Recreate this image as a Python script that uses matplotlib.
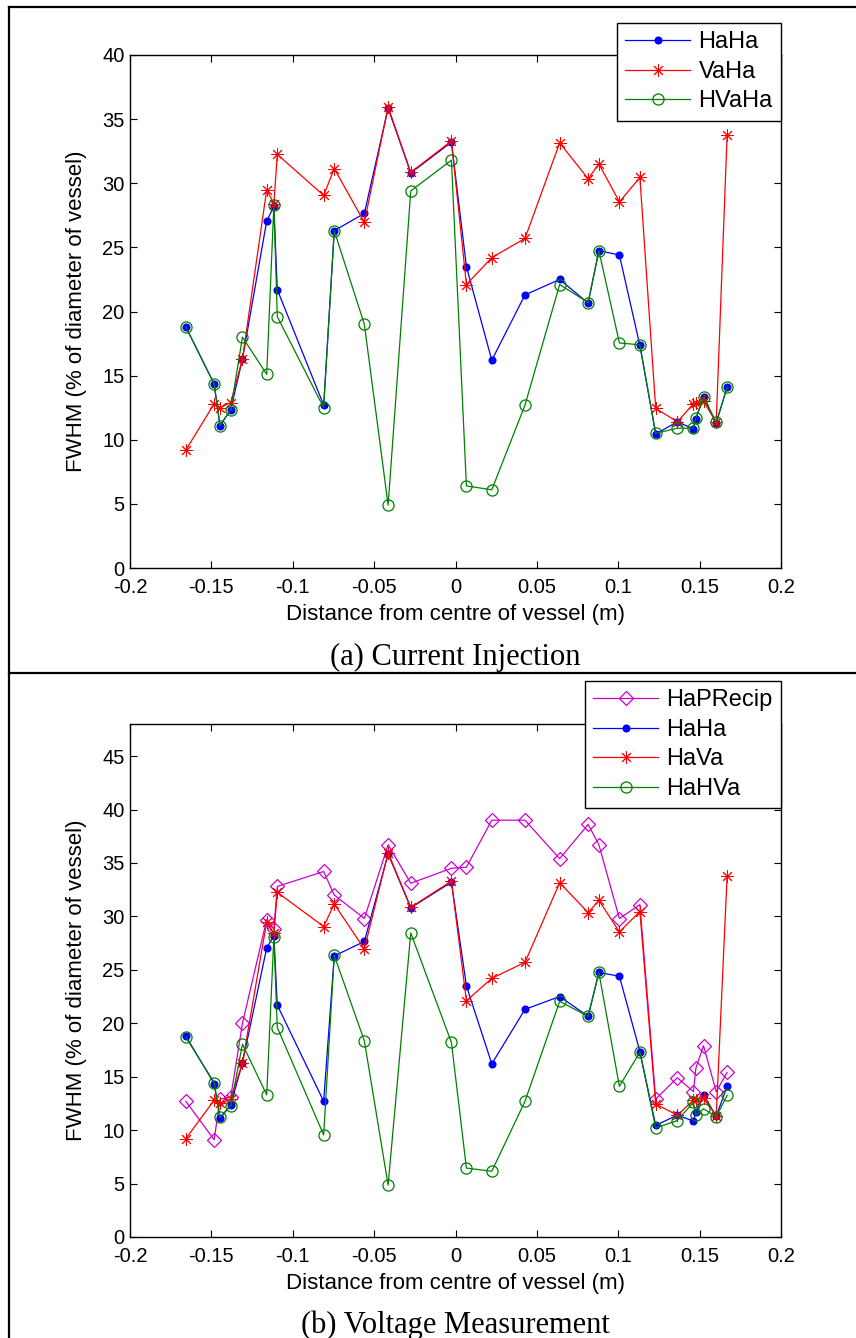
import matplotlib
matplotlib.use("Agg")
import matplotlib.pyplot as plt
from matplotlib.lines import Line2D

plt.rcParams['font.family'] = ['Liberation Sans', 'DejaVu Sans']

# distance of each measurement point from the vessel centre (m)
x_pos = [-0.1657, -0.1483, -0.1447, -0.1381, -0.1309, -0.1160, -0.1116, -0.1095,
         -0.0810, -0.0745, -0.0560, -0.0414, -0.0275, -0.0025, 0.0067, 0.0223,
         0.0427, 0.0640, 0.0815, 0.0881, 0.1007, 0.1133, 0.1230, 0.1363,
         0.1462, 0.1477, 0.1524, 0.1602, 0.1669]

# FWHM (% of vessel diameter)
haha = [18.8, 14.35, 11.1, 12.35, 16.3, 27.05, 28.2, 21.7, 12.7, 26.3, 27.65,
        35.85, 30.8, 33.2, 23.5, 16.2, 21.3, 22.5, 20.65, 24.75, 24.4, 17.35,
        10.45, 11.4, 10.85, 11.65, 13.3, 11.3, 14.1]
vaha = [9.2, 12.8, 12.5, 12.9, 16.3, 29.5, 28.4, 32.25, 29.05, 31.15, 26.95,
        35.95, 30.85, 33.3, 22.1, 24.2, 25.7, 33.15, 30.35, 31.5, 28.55, 30.45,
        12.45, 11.4, 12.8, 12.85, 13.0, 11.35, 33.8]
hvaha = [18.8, 14.35, 11.1, 12.35, 18.0, 15.1, 28.3, 19.6, 12.5, 26.3, 19.0,
         4.9, 29.4, 31.8, 6.4, 6.1, 12.7, 22.1, 20.7, 24.75, 17.55, 17.4,
         10.5, 10.9, 10.9, 11.7, 13.35, 11.35, 14.1]
haprecip = [12.7, 9.1, 12.9, 13.1, 20.0, 29.7, 28.8, 32.8, 34.2, 32.0, 29.8,
            36.7, 33.1, 34.5, 34.6, 39.0, 39.0, 35.4, 38.6, 36.7, 29.8, 31.1,
            12.9, 14.9, 13.6, 15.8, 17.9, 13.6, 15.4]
hahva = [18.7, 14.45, 11.2, 12.3, 18.05, 13.3, 28.05, 19.6, 9.55, 26.35, 18.35,
         4.85, 28.45, 18.2, 6.45, 6.15, 12.7, 22.05, 20.65, 24.75, 14.1, 17.3,
         10.2, 10.9, 12.6, 11.4, 12.0, 11.25, 13.25]

x_ticks = [-0.2, -0.15, -0.1, -0.05, 0, 0.05, 0.1, 0.15, 0.2]
x_ticklabels = ['-0.2', '-0.15', '-0.1', '-0.05', '0', '0.05', '0.1', '0.15', '0.2']

W, H = 856, 1338
fig = plt.figure(figsize=(W / 100, H / 100), dpi=100)

BLUE = (0, 0, 1)
RED = (1, 0, 0)
GREEN = (0, 0.5, 0)
MAGENTA = '#cc00cc'
LW = 0.9
ASTER = (8, 2, 0)


def px_axes(left, top, right, bottom):
    return fig.add_axes([left / W, 1 - bottom / H, (right - left) / W, (bottom - top) / H])


def style_axes(ax, ymax, yticks):
    ax.set_xlim(-0.2, 0.2)
    ax.set_ylim(0, ymax)
    ax.set_xticks(x_ticks)
    ax.set_xticklabels(x_ticklabels)
    ax.set_yticks(yticks)
    ax.set_yticklabels([str(t) for t in yticks])
    ax.tick_params(direction='in', length=5, width=0.8, top=True, right=True,
                   labelsize=14.5)
    ax.tick_params(axis='x', pad=7)
    ax.tick_params(axis='y', pad=4)
    for s in ax.spines.values():
        s.set_linewidth(1.0)
    ax.set_xlabel('Distance from centre of vessel (m)', fontsize=16, labelpad=5)
    ax.set_ylabel('FWHM (% of diameter of vessel)', fontsize=16, labelpad=11)


def add_legend(ax, top_px):
    leg = ax.legend(loc='upper right', bbox_to_anchor=(781 / W, 1 - top_px / H),
                    bbox_transform=fig.transFigure, borderaxespad=0, fontsize=17,
                    handlelength=2.75, handletextpad=0.35, labelspacing=0.32,
                    fancybox=False, edgecolor='black', framealpha=1, borderpad=0.35)
    leg.get_frame().set_linewidth(1.0)
    return leg


# (a) current injection
ax1 = px_axes(130, 55, 781, 568)
ax1.plot(x_pos, haha, '-', color=BLUE, lw=LW, marker='o', ms=4.8, mfc=BLUE, mec=BLUE, label='HaHa')
ax1.plot(x_pos, vaha, '-', color=RED, lw=LW, marker=ASTER, ms=9, mew=0.7, label='VaHa')
ax1.plot(x_pos, hvaha, '-', color=GREEN, lw=LW, marker='o', ms=8, mfc='none', mec=GREEN,
         mew=0.9, label='HVaHa')
style_axes(ax1, 40, list(range(0, 41, 5)))
add_legend(ax1, 23)

# (b) voltage measurement
ax2 = px_axes(130, 724, 781, 1237)
ax2.plot(x_pos, haprecip, '-', color=MAGENTA, lw=LW, marker='D', ms=7.5, mfc='none',
         mec=MAGENTA, mew=0.9, label='HaPRecip')
ax2.plot(x_pos, haha, '-', color=BLUE, lw=LW, marker='o', ms=4.8, mfc=BLUE, mec=BLUE, label='HaHa')
ax2.plot(x_pos, vaha, '-', color=RED, lw=LW, marker=ASTER, ms=9, mew=0.7, label='HaVa')
ax2.plot(x_pos, hahva, '-', color=GREEN, lw=LW, marker='o', ms=8, mfc='none', mec=GREEN,
         mew=0.9, label='HaHVa')
style_axes(ax2, 48, list(range(0, 46, 5)))
add_legend(ax2, 681)

# captions
fig.text(455 / W, 1 - 657 / H, '(a) Current Injection', ha='center', va='center',
         fontsize=22, family=['Liberation Serif', 'DejaVu Serif'])
fig.text(455 / W, 1 - 1325 / H, '(b) Voltage Measurement', ha='center', va='center',
         fontsize=22, family=['Liberation Serif', 'DejaVu Serif'])

# table frame lines
def frame_line(x0, y0, x1, y1):
    fig.add_artist(Line2D([x0 / W, x1 / W], [1 - y0 / H, 1 - y1 / H],
                          transform=fig.transFigure, color='black', lw=1.6))

frame_line(9, 7, 9, H)
frame_line(9, 7, W, 7)
frame_line(9, 673, W, 673)

fig.savefig('out.png', dpi=100)
